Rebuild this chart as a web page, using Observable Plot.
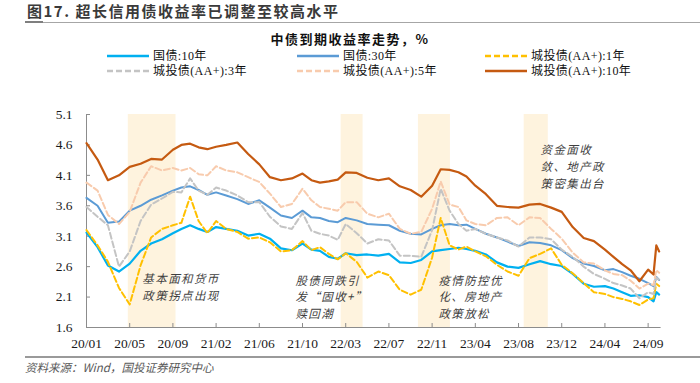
<!DOCTYPE html>
<html><head><meta charset="utf-8">
<script src="https://cdn.jsdelivr.net/npm/d3@7"></script>
<script src="https://cdn.jsdelivr.net/npm/@observablehq/plot@0.6"></script>
<style>
body{margin:0;background:#fff;}
#wrap{position:relative;width:700px;height:383px;overflow:hidden;font-family:"Noto Sans CJK SC",sans-serif;}
#title{position:absolute;left:27px;top:2px;font-size:15px;font-weight:bold;color:#3a3a3a;letter-spacing:1.5px;white-space:nowrap;line-height:18px;}
#tline{position:absolute;left:25px;top:22px;width:675px;height:1px;background:#a6a6a6;}
#tmark{position:absolute;left:25px;top:21px;width:18px;height:2px;background:#7f7f7f;}
#subtitle{position:absolute;left:0;width:700px;top:31px;text-align:center;font-size:13px;font-weight:bold;letter-spacing:1.5px;color:#111;line-height:16px;}
.lg{position:absolute;font-family:"Liberation Serif","Noto Sans CJK SC",serif;font-size:12px;line-height:12px;letter-spacing:0.4px;color:#111;white-space:nowrap;}
.sw{position:absolute;}
#chart{position:absolute;left:0;top:100px;}
#chart g[aria-label="text"] text{letter-spacing:1.4px;}
#sline{position:absolute;left:25px;top:356px;width:675px;height:2px;background:#9a9a9a;}
#source{position:absolute;left:25px;top:360px;font-size:11.5px;font-style:italic;color:#595959;line-height:14px;white-space:nowrap;}
</style>
</head><body>
<div id="wrap">
  <div id="title">图17. 超长信用债收益率已调整至较高水平</div>
  <div id="tline"></div><div id="tmark"></div>
  <div id="subtitle">中债到期收益率走势，%</div>
  <div id="legend"></div>
  <div id="chart"></div>
  <div id="sline"></div>
  <div id="source">资料来源：Wind，国投证券研究中心</div>
</div>
<script>
const dates = ["2020-01-01","2020-02-01","2020-03-01","2020-04-01","2020-05-01","2020-06-01","2020-07-01","2020-08-01","2020-09-01","2020-10-01","2020-11-01","2020-12-01",
"2021-01-01","2021-02-01","2021-03-01","2021-04-01","2021-05-01","2021-06-01","2021-07-01","2021-08-01","2021-09-01","2021-10-01","2021-11-01","2021-12-01",
"2022-01-01","2022-02-01","2022-03-01","2022-04-01","2022-05-01","2022-06-01","2022-07-01","2022-08-01","2022-09-01","2022-10-01","2022-11-01","2022-12-01",
"2023-01-01","2023-02-01","2023-03-01","2023-04-01","2023-05-01","2023-06-01","2023-07-01","2023-08-01","2023-09-01","2023-10-01","2023-11-01","2023-12-01",
"2024-01-01","2024-02-01","2024-03-01","2024-04-01","2024-05-01","2024-06-01","2024-07-01","2024-08-01","2024-09-01","2024-09-20","2024-09-30","2024-10-10"];

const cgb10 = [3.16,2.92,2.62,2.52,2.65,2.86,2.98,3.05,3.15,3.22,3.28,3.22,
3.17,3.25,3.22,3.19,3.11,3.14,3.06,2.90,2.87,2.98,2.88,2.86,
2.76,2.73,2.82,2.79,2.80,2.78,2.81,2.67,2.66,2.71,2.85,2.87,
2.89,2.91,2.89,2.86,2.80,2.67,2.60,2.58,2.64,2.69,2.64,2.61,
2.48,2.32,2.27,2.28,2.24,2.18,2.12,2.13,2.10,2.03,2.18,2.14];
const cgb30 = [3.73,3.60,3.32,3.34,3.52,3.60,3.70,3.77,3.85,3.90,3.92,3.86,
3.78,3.82,3.77,3.71,3.63,3.69,3.57,3.44,3.40,3.52,3.41,3.40,
3.35,3.33,3.40,3.36,3.30,3.29,3.28,3.19,3.14,3.13,3.22,3.28,
3.30,3.28,3.29,3.22,3.14,3.08,3.01,2.94,3.00,2.99,2.95,2.87,
2.74,2.65,2.61,2.54,2.56,2.51,2.45,2.40,2.33,2.28,2.43,2.38];
const ct1 = [3.20,2.95,2.68,2.25,1.98,2.62,3.08,3.22,3.28,3.32,3.75,3.35,
3.15,3.35,3.22,3.17,3.06,3.08,3.00,2.85,2.87,3.02,2.87,2.92,
2.81,2.72,2.82,2.68,2.42,2.52,2.46,2.22,2.14,2.22,2.75,3.40,
2.95,2.88,2.93,2.85,2.77,2.63,2.52,2.45,2.74,2.81,2.90,2.63,
2.49,2.33,2.18,2.15,2.10,2.07,2.03,1.97,2.06,2.08,2.32,2.28];
const ct3 = [3.58,3.42,3.28,2.60,2.85,3.35,3.62,3.72,3.83,3.82,4.05,3.85,
3.78,3.90,3.85,3.77,3.66,3.66,3.42,3.26,3.22,3.48,3.19,3.14,
3.11,3.04,3.30,3.15,2.98,3.05,3.03,2.78,2.78,2.76,3.20,3.88,
3.52,3.30,3.19,3.22,3.14,3.08,3.03,2.93,3.08,3.08,3.05,2.88,
2.76,2.60,2.48,2.40,2.33,2.29,2.24,2.08,2.18,2.15,2.42,2.38];
const ct5 = [3.98,3.85,3.45,3.30,3.50,3.98,4.25,4.18,4.22,4.18,4.22,4.12,
4.10,4.25,4.18,4.15,4.07,3.99,3.80,3.58,3.63,3.88,3.69,3.58,
3.55,3.52,3.66,3.66,3.47,3.41,3.47,3.22,3.14,3.17,3.55,4.00,
3.62,3.58,3.36,3.30,3.28,3.40,3.41,3.28,3.41,3.40,3.22,3.06,
2.83,2.67,2.65,2.54,2.48,2.46,2.37,2.24,2.32,2.30,2.54,2.50];
const ct10 = [4.63,4.36,4.02,4.10,4.24,4.29,4.37,4.36,4.52,4.60,4.62,4.56,
4.53,4.57,4.60,4.64,4.45,4.28,4.07,4.02,4.05,4.13,4.02,3.98,
4.00,4.03,4.15,4.14,4.06,4.02,4.05,3.92,3.86,3.75,3.93,4.20,
4.19,4.15,4.08,3.93,3.79,3.60,3.58,3.57,3.62,3.63,3.57,3.50,
3.25,3.07,3.02,2.88,2.76,2.64,2.54,2.36,2.55,2.47,2.95,2.85];

const seriesNames = ["国债:10年","国债:30年","城投债(AA+):1年","城投债(AA+):3年","城投债(AA+):5年","城投债(AA+):10年"];
const seriesValues = [cgb10, cgb30, ct1, ct3, ct5, ct10];
const seriesColors = ["#00B0F0","#5B9BD5","#FFC000","#C4C4C4","#F8CBAD","#C55A11"];
const seriesDash = [null, null, "6,3", "6,3", "6,3", null];
const seriesWidth = [2.2, 2.0, 2.0, 2.0, 2.0, 2.2];

const tickDates = ["2020-01-01","2020-05-01","2020-09-01","2021-02-01","2021-06-01","2021-10-01","2022-03-01","2022-07-01","2022-11-01","2023-04-01","2023-08-01","2023-12-01","2024-04-01","2024-09-01"];
const tickLabels = ["20/01","20/05","20/09","21/02","21/06","21/10","22/03","22/07","22/11","23/04","23/08","23/12","24/04","24/09"];
const yTicks = [1.6,2.1,2.6,3.1,3.6,4.1,4.6,5.1];

const bandStarts = ["2020-04-27","2022-02-13","2022-09-23","2023-08-17"];
const bandEnds   = ["2020-09-12","2022-04-19","2023-01-04","2023-10-24"];

const noteDates = ["2020-06-06","2021-09-11","2022-11-23","2023-10-02"];
const noteValues = [2.53, 2.50, 2.50, 4.64];
const noteTexts = ["基本面和货币\n政策拐点出现","股债同跌引\n发“固收+”\n赎回潮","疫情防控优\n化、房地产\n政策放松","资金面收\n敛、地产政\n策密集出台"];

const tms = tickDates.map(d => +new Date(d));
function pos(d) {
  const t = +new Date(d);
  let i = d3.bisectRight(tms, t) - 1;
  i = Math.max(0, Math.min(i, tms.length - 2));
  return i + (t - tms[i]) / (tms[i + 1] - tms[i]);
}

const bands = bandStarts.map((s, i) => ({x1: pos(s), x2: pos(bandEnds[i])}));
const notes = noteTexts.map((t, i) => ({x: pos(noteDates[i]), y: noteValues[i], text: t}));

const lineMarks = seriesValues.map((vals, k) => {
  const rows = vals.map((v, i) => ({x: pos(dates[i]), y: v}));
  return Plot.line(rows, {x: "x", y: "y", stroke: seriesColors[k], strokeWidth: seriesWidth[k],
    strokeDasharray: seriesDash[k] || undefined, strokeLinejoin: "round", curve: "linear"});
});

const chart = Plot.plot({
  width: 700, height: 255,
  marginLeft: 86, marginRight: 39.4, marginTop: 14, marginBottom: 28,
  x: {type: "linear", domain: [0, 13.3]},
  y: {domain: [1.6, 5.1]},
  style: {fontFamily: "'Liberation Serif','Noto Sans CJK SC',serif", fontSize: "13.5px", color: "#1a1a1a", background: "transparent", overflow: "visible"},
  marks: [
    Plot.rect(bands, {x1: "x1", x2: "x2", fill: "#FEF3DE"}),
    Plot.ruleY([1.6], {stroke: "#8c8c8c"}),
    Plot.ruleX([0], {stroke: "#8c8c8c"}),
    Plot.axisY({ticks: yTicks, tickSize: -4, tickPadding: 18, stroke: "#8c8c8c", tickFormat: d => d.toFixed(1), label: null}),
    Plot.axisX({ticks: tickLabels.map((_, i) => i), tickSize: -4, tickPadding: 15, stroke: "#8c8c8c", tickFormat: i => tickLabels[i], label: null}),
    ...lineMarks,
    Plot.text(notes, {x: "x", y: "y", text: "text", textAnchor: "start", lineAnchor: "top", lineHeight: 1.46,
      fontSize: 11.5, fontStyle: "italic", fill: "#3f3f3f", fontFamily: "Noto Sans CJK SC"})
  ]
});
document.getElementById("chart").appendChild(chart);

// legend
const legend = document.getElementById("legend");
const colX = [107, 297, 485];
const rowY = [56, 71];
seriesNames.forEach((name, k) => {
  const cx = colX[k % 3], cy = rowY[Math.floor(k / 3)];
  const ns = "http://www.w3.org/2000/svg";
  const svg = document.createElementNS(ns, "svg");
  svg.setAttribute("width", 42); svg.setAttribute("height", 6);
  svg.setAttribute("class", "sw");
  svg.style.left = cx + "px"; svg.style.top = (cy - 3) + "px";
  const ln = document.createElementNS(ns, "line");
  ln.setAttribute("x1", 0); ln.setAttribute("x2", 42); ln.setAttribute("y1", 3); ln.setAttribute("y2", 3);
  ln.setAttribute("stroke", seriesColors[k]); ln.setAttribute("stroke-width", 2.6);
  if (seriesDash[k]) ln.setAttribute("stroke-dasharray", "6,3");
  svg.appendChild(ln);
  legend.appendChild(svg);
  const t = document.createElement("div");
  t.className = "lg"; t.textContent = name;
  t.style.left = (cx + 46) + "px"; t.style.top = (cy - 6) + "px";
  legend.appendChild(t);
});
</script>
</body></html>
